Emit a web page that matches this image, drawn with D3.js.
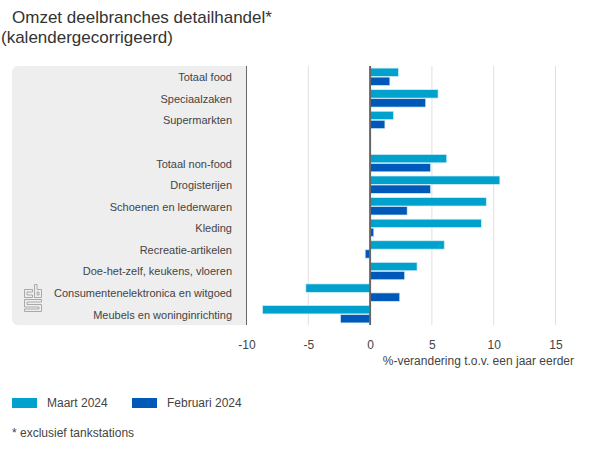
<!DOCTYPE html>
<html><head><meta charset="utf-8">
<script src="https://cdnjs.cloudflare.com/ajax/libs/d3/7.8.5/d3.min.js"></script>
<style>html,body{margin:0;padding:0;background:#fff}svg{display:block}text{font-family:"Liberation Sans",Arial,sans-serif}</style>
</head><body><svg id="c" width="600" height="450"></svg>
<script>
const categories=["Totaal food","Speciaalzaken","Supermarkten"," ","Totaal non-food","Drogisterijen","Schoenen en lederwaren","Kleding","Recreatie-artikelen","Doe-het-zelf, keukens, vloeren","Consumentenelektronica en witgoed","Meubels en woninginrichting"];
const maart=[2.3,5.5,1.9,null,6.2,10.5,9.4,9.0,6.0,3.8,-5.2,-8.7];
const februari=[1.6,4.5,1.2,null,4.9,4.9,3.0,0.3,-0.4,2.8,2.4,-2.4];
const ticks=[-10,-5,0,5,10,15];
const seriesNames=["Maart 2024","Februari 2024"];
const colors=["#00a1cd","#0058b8"];
const svg=d3.select("#c");
const x=d3.scaleLinear().domain([-10,15]).range([246.5,555.5]);
const y=d3.scaleBand().domain(categories).range([66,325]);
svg.append("path").attr("d","M246,66H18a6,6 0 0 0 -6,6V319a6,6 0 0 0 6,6H246Z").attr("fill","#eeeeee");
const gx=svg.append("g").attr("transform","translate(0,325)").call(d3.axisBottom(x).tickValues(ticks).tickSize(0).tickFormat(d=>String(d)));
gx.select(".domain").remove();
gx.selectAll("text").attr("y",15).attr("font-size",12).attr("fill","#444").style("font-family",'"Liberation Sans",Arial,sans-serif');
svg.append("g").selectAll("line").data(ticks.filter(d=>d!==0&&d!==-10)).join("line")
 .attr("x1",d=>x(d)).attr("x2",d=>x(d)).attr("y1",66).attr("y2",325).attr("stroke","#e0e0e0").attr("stroke-width",1);
const barH=8.4;
[maart,februari].forEach((s,i)=>{
 svg.append("g").selectAll("rect").data(s.map((v,k)=>({v,c:categories[k]})).filter(d=>d.v!==null)).join("rect")
  .attr("x",d=>Math.min(x(0),x(d.v))).attr("width",d=>Math.abs(x(d.v)-x(0)))
  .attr("y",d=>y(d.c)+y.bandwidth()/2+(i===0?-barH-0.3:0.3)).attr("height",barH)
  .attr("fill",colors[i]).attr("stroke","#d4eef8").attr("stroke-width",0.7);
});
svg.append("line").attr("x1",x(-10)).attr("x2",x(-10)).attr("y1",66).attr("y2",325).attr("stroke","#666").attr("stroke-width",1);
svg.append("line").attr("x1",x(0)).attr("x2",x(0)).attr("y1",66).attr("y2",325).attr("stroke","#666").attr("stroke-width",2);
svg.append("g").selectAll("text").data(categories).join("text").attr("x",232).attr("y",d=>y(d)+y.bandwidth()/2+4.4).attr("text-anchor","end").attr("font-size",11).attr("fill","#444").text(d=>d);
svg.append("text").attr("x",574).attr("y",365).attr("text-anchor","end").attr("font-size",12).attr("fill","#444").text("%-verandering t.o.v. een jaar eerder");
svg.append("text").attr("x",12).attr("y",22.5).attr("font-size",17).attr("fill","#333").text("Omzet deelbranches detailhandel*");
svg.append("text").attr("x",1).attr("y",43).attr("font-size",17).attr("fill","#333").text("(kalendergecorrigeerd)");
[[12,47],[132,167]].forEach((p,i)=>{
 svg.append("rect").attr("x",p[0]).attr("y",398).attr("width",25).attr("height",10).attr("fill",colors[i]);
 svg.append("text").attr("x",p[1]).attr("y",407).attr("font-size",12).attr("fill","#444").text(seriesNames[i]);
});
svg.append("text").attr("x",12).attr("y",437).attr("font-size",12).attr("fill","#444").text("* exclusief tankstations");
const logoPath="M24.5,289.5H32.5V292H27V295H32.5V297.5H24.5Z M34.5,284.5H37V289.5H41.5V297.5H34.5Z M37,292V295H39V292Z M24.5,299.5H41.5V302H27V304.5H41.5V311.5H24.5V309H39V307H24.5Z";
svg.append("path").attr("d",logoPath).attr("fill","none").attr("stroke","#a0a0a0").attr("stroke-width",0.9);
</script></body></html>
